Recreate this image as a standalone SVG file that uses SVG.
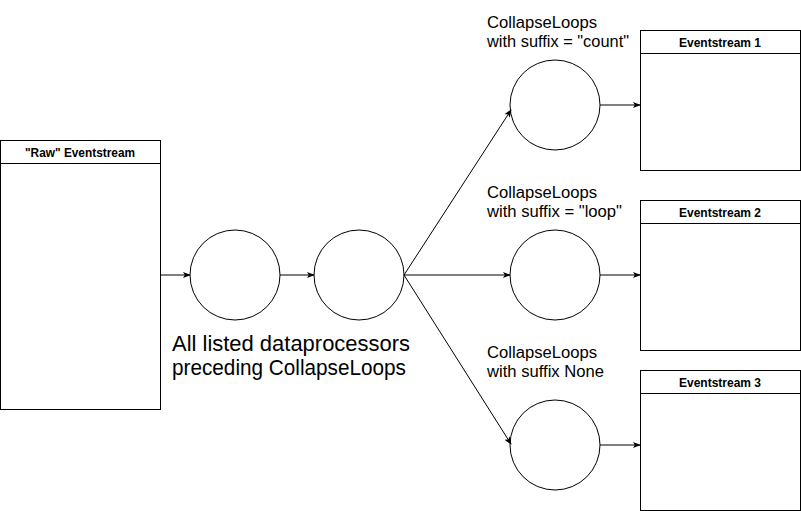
<svg xmlns="http://www.w3.org/2000/svg" width="801" height="511" viewBox="0 0 801 511">
<style>
.box{fill:#fff;stroke:#000;stroke-width:1}
.hdr{font-family:"Liberation Sans",Arial,sans-serif;font-size:12px;font-weight:bold;text-anchor:middle;fill:#000}
.lbl{font-family:"Liberation Sans",Arial,sans-serif;font-size:16px;fill:#000}
.big{font-family:"Liberation Sans",Arial,sans-serif;font-size:21.5px;fill:#000}
.circ{fill:#fff;stroke:#000;stroke-width:1}
.edge{fill:none;stroke:#000;stroke-width:1}
</style>
<defs>
<marker id="arr" viewBox="0 0 10 10" refX="9" refY="5" markerWidth="8" markerHeight="8" markerUnits="userSpaceOnUse" orient="auto">
<path d="M0,1 L10,5 L0,9 L2.5,5 Z" fill="#000"/>
</marker>
</defs>
<rect width="801" height="511" fill="#fff"/>
<g id="raw">
<rect class="box" x="0.5" y="140.5" width="160" height="269"/>
<line class="box" x1="0.5" y1="163.5" x2="160.5" y2="163.5"/>
<text class="hdr" x="80" y="156.5" textLength="110" lengthAdjust="spacingAndGlyphs">"Raw" Eventstream</text>
</g>
<g id="proc1"><circle class="circ" cx="235" cy="275" r="45"/></g>
<g id="proc2"><circle class="circ" cx="359" cy="275" r="45"/></g>
<g id="procLabel">
<text class="big" x="172" y="351" textLength="238" lengthAdjust="spacingAndGlyphs">All listed dataprocessors</text>
<text class="big" x="172" y="375" textLength="234" lengthAdjust="spacingAndGlyphs">preceding CollapseLoops</text>
</g>
<g id="cl1">
<circle class="circ" cx="555" cy="105" r="45"/>
<text class="lbl" x="487" y="28" textLength="110" lengthAdjust="spacingAndGlyphs">CollapseLoops</text>
<text class="lbl" x="487" y="47" textLength="142" lengthAdjust="spacingAndGlyphs">with suffix = "count"</text>
</g>
<g id="cl2">
<circle class="circ" cx="555" cy="275" r="45"/>
<text class="lbl" x="487" y="198" textLength="110" lengthAdjust="spacingAndGlyphs">CollapseLoops</text>
<text class="lbl" x="487" y="217" textLength="135" lengthAdjust="spacingAndGlyphs">with suffix = "loop"</text>
</g>
<g id="cl3">
<circle class="circ" cx="555" cy="445" r="45"/>
<text class="lbl" x="487" y="358" textLength="110" lengthAdjust="spacingAndGlyphs">CollapseLoops</text>
<text class="lbl" x="487" y="377" textLength="117" lengthAdjust="spacingAndGlyphs">with suffix None</text>
</g>
<g id="es1">
<rect class="box" x="640.5" y="30.5" width="160" height="140"/>
<line class="box" x1="640.5" y1="53.5" x2="800.5" y2="53.5"/>
<text class="hdr" x="720" y="46.5">Eventstream 1</text>
</g>
<g id="es2">
<rect class="box" x="640.5" y="200.5" width="160" height="150"/>
<line class="box" x1="640.5" y1="223.5" x2="800.5" y2="223.5"/>
<text class="hdr" x="720" y="216.5">Eventstream 2</text>
</g>
<g id="es3">
<rect class="box" x="640.5" y="370.5" width="160" height="140"/>
<line class="box" x1="640.5" y1="393.5" x2="800.5" y2="393.5"/>
<text class="hdr" x="720" y="386.5">Eventstream 3</text>
</g>
<g id="connectors">
<line class="edge" x1="161" y1="275" x2="190" y2="275" marker-end="url(#arr)"/>
<line class="edge" x1="280" y1="275" x2="314" y2="275" marker-end="url(#arr)"/>
<line class="edge" x1="404" y1="275" x2="511" y2="110" marker-end="url(#arr)"/>
<line class="edge" x1="404" y1="275" x2="510" y2="275" marker-end="url(#arr)"/>
<line class="edge" x1="404" y1="275" x2="511" y2="444" marker-end="url(#arr)"/>
<line class="edge" x1="600" y1="105" x2="640" y2="105" marker-end="url(#arr)"/>
<line class="edge" x1="600" y1="275" x2="640" y2="275" marker-end="url(#arr)"/>
<line class="edge" x1="600" y1="445" x2="640" y2="445" marker-end="url(#arr)"/>
</g>
</svg>
